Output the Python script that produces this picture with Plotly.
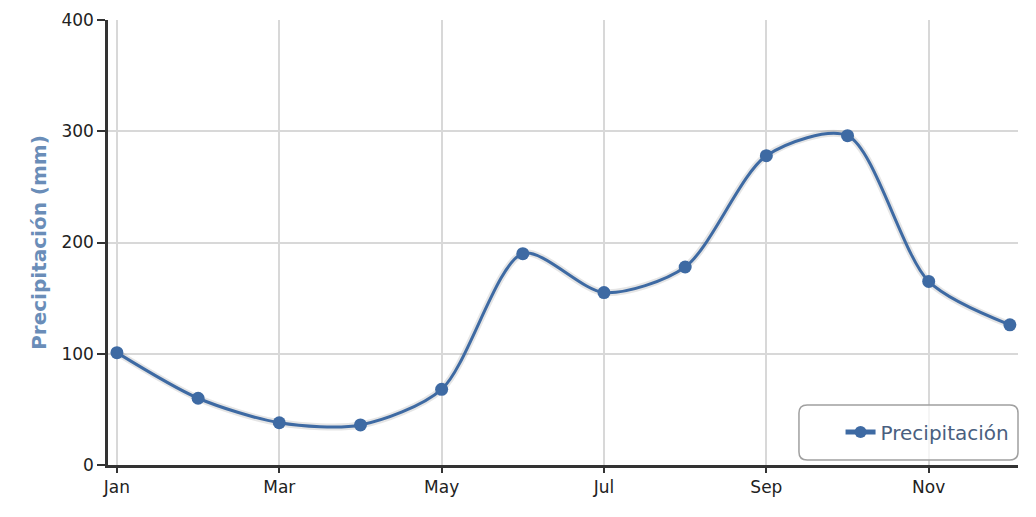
import plotly.graph_objects as go

months = ["Jan", "Feb", "Mar", "Apr", "May", "Jun", "Jul", "Aug", "Sep", "Oct", "Nov", "Dec"]
precip = [101, 60, 38, 36, 68, 190, 155, 178, 278, 296, 165, 126]
y_ticks = [0, 100, 200, 300, 400]
series_name = "Precipitación"
y_title = "Precipitación (mm)"

line_color = "#3e6aa3"

fig = go.Figure()
fig.add_trace(go.Scatter(
    x=months, y=precip, mode="lines",
    line=dict(color="rgba(0,0,0,0.10)", width=7, shape="spline", smoothing=0.8),
    hoverinfo="skip", showlegend=False,
))
fig.add_trace(go.Scatter(
    x=months, y=precip, mode="lines+markers", name=series_name,
    line=dict(color=line_color, width=3, shape="spline", smoothing=0.8),
    marker=dict(color=line_color, size=13),
))

# rounded legend frame (paper coordinates)
x0, x1, y0, y1 = 0.7593, 1.0, 0.0112, 0.1348
rx, ry = 0.009, 0.018
path = (f"M {x0+rx},{y0} L {x1-rx},{y0} Q {x1},{y0} {x1},{y0+ry} "
        f"L {x1},{y1-ry} Q {x1},{y1} {x1-rx},{y1} L {x0+rx},{y1} Q {x0},{y1} {x0},{y1-ry} "
        f"L {x0},{y0+ry} Q {x0},{y0} {x0+rx},{y0} Z")
fig.add_shape(type="path", path=path, xref="paper", yref="paper",
              line=dict(color="#a0a0a0", width=1.5), fillcolor="rgba(255,255,255,0.75)", layer="above")

fig.update_layout(
    width=1028, height=509,
    margin=dict(l=100, r=18, t=12, b=52, autoexpand=False),
    paper_bgcolor="white", plot_bgcolor="white",
    font=dict(family="DejaVu Sans", color="#222222", size=16),
    showlegend=True,
    legend=dict(
        x=0.805, y=0.074, xanchor="left", yanchor="middle",
        bgcolor="rgba(0,0,0,0)", borderwidth=0,
        font=dict(family="DejaVu Sans", size=20, color="#4a5f80"),
        itemsizing="constant",
    ),
    xaxis=dict(
        type="category", categoryorder="array", categoryarray=months,
        range=[-0.11, 11.1],
        tickvals=months[::2], ticktext=months[::2],
        showgrid=True, gridcolor="#d8d8d8", gridwidth=2,
        showline=True, linecolor="#333333", linewidth=2.5,
        ticks="outside", ticklen=5, tickcolor="#333333", tickwidth=2,
        tickfont=dict(size=17, color="#222222"),
        zeroline=False, automargin=False,
    ),
    yaxis=dict(
        range=[0, 400], tickvals=y_ticks,
        showgrid=True, gridcolor="#d8d8d8", gridwidth=2,
        showline=True, linecolor="#333333", linewidth=2.5,
        ticks="outside", ticklen=8, tickcolor="#333333", tickwidth=2,
        tickfont=dict(size=17, color="#222222"),
        zeroline=False, automargin=False,
        title=dict(text=y_title, font=dict(size=20, color="#6a8db8", weight="bold"), standoff=10),
    ),
)

fig.write_html("out.html")
